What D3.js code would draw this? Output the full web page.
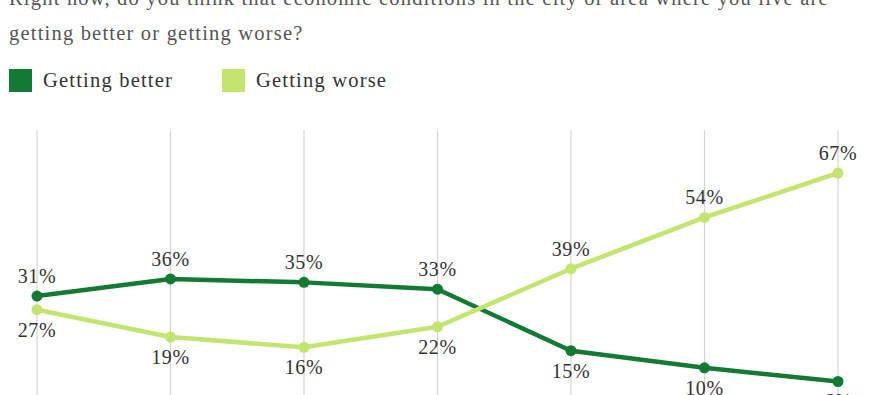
<!DOCTYPE html>
<html>
<head>
<meta charset="utf-8">
<script src="https://cdn.jsdelivr.net/npm/d3@7"></script>
<style>
  body { margin: 0; background: #fff; }
  svg { display: block; font-family: "Liberation Serif", "DejaVu Serif", Georgia, serif; }
</style>
</head>
<body>
<svg id="chart" width="890" height="395"></svg>
<script>
var titleLines = [
    "Right now, do you think that economic conditions in the city or area where you live are",
    "getting better or getting worse?"
];
var categories = [ "1", "2", "3", "4", "5", "6", "7" ];
var better = [ 31, 36, 35, 33, 15, 10, 6 ];
var worse = [ 27, 19, 16, 22, 39, 54, 67 ];
var seriesNames = [ "Getting better", "Getting worse" ];
var colors = [ "#127a32", "#c3e56f" ];

var svg = d3.select( "#chart" );

var x = d3.scalePoint().domain( categories ).range( [ 37, 838 ] );
var y = d3.scaleLinear().domain( [ 0, 67 ] ).range( [ 402, 173 ] );

// title, top line is cut off by the frame
svg.selectAll( ".title" )
    .data( titleLines )
    .enter()
    .append( "text" )
    .attr( "class", "title" )
    .attr( "x", 9 )
    .attr( "y", function( d, i ) { return 5 + i * 35; } )
    .attr( "fill", "#555" )
    .style( "font-size", "20.5px" )
    .style( "letter-spacing", "1.2px" )
    .text( function( d ) { return d; } );

// legend
var legend = svg.selectAll( ".legend" )
    .data( seriesNames )
    .enter()
    .append( "g" )
    .attr( "class", "legend" )
    .attr( "transform", function( d, i ) { return "translate(" + ( 9 + i * 213 ) + ",69)"; } );

legend.append( "rect" )
    .attr( "width", 23 )
    .attr( "height", 23 )
    .attr( "fill", function( d, i ) { return colors[ i ]; } );

legend.append( "text" )
    .attr( "x", 34 )
    .attr( "y", 18 )
    .attr( "fill", "#333" )
    .style( "font-size", "20.5px" )
    .style( "letter-spacing", "1.2px" )
    .text( function( d ) { return d; } );

// vertical gridlines
svg.append( "g" )
    .selectAll( "line" )
    .data( categories )
    .enter()
    .append( "line" )
    .attr( "x1", function( d ) { return x( d ); } )
    .attr( "x2", function( d ) { return x( d ); } )
    .attr( "y1", 130 )
    .attr( "y2", 395 )
    .attr( "stroke", "#d4d4d4" )
    .attr( "stroke-width", 1.2 );

var series = [ better, worse ];
var line = d3.line()
    .x( function( d, i ) { return x( categories[ i ] ); } )
    .y( function( d ) { return y( d ); } );

series.forEach( function( values, s ) {
    var g = svg.append( "g" );
    g.append( "path" )
        .datum( values )
        .attr( "d", line )
        .attr( "fill", "none" )
        .attr( "stroke", colors[ s ] )
        .attr( "stroke-width", 4.5 )
        .attr( "stroke-linejoin", "round" );

    g.selectAll( "circle" )
        .data( values )
        .enter()
        .append( "circle" )
        .attr( "cx", function( d, i ) { return x( categories[ i ] ); } )
        .attr( "cy", function( d ) { return y( d ); } )
        .attr( "r", 5.5 )
        .attr( "fill", colors[ s ] );
});

// value labels: higher series above, lower below
series.forEach( function( values, s ) {
    var other = series[ 1 - s ];
    svg.append( "g" )
        .selectAll( "text" )
        .data( values )
        .enter()
        .append( "text" )
        .attr( "x", function( d, i ) { return x( categories[ i ] ); } )
        .attr( "y", function( d, i ) { return d >= other[ i ] ? y( d ) - 13 : y( d ) + 27; } )
        .attr( "text-anchor", "middle" )
        .attr( "fill", "#333" )
        .style( "font-size", "20px" )
        .style( "letter-spacing", "0.6px" )
        .text( function( d ) { return d + "%"; } );
});
</script>
</body>
</html>
